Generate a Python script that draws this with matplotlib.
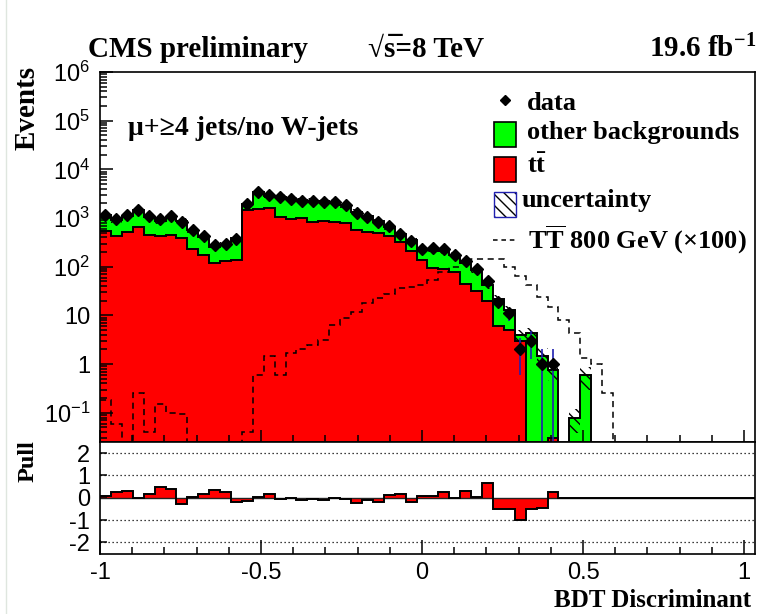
import numpy as np
import matplotlib
matplotlib.use("Agg")
import matplotlib.pyplot as plt
from matplotlib.lines import Line2D
from matplotlib.patches import Rectangle
from matplotlib.ticker import FixedLocator, FixedFormatter, MultipleLocator, NullFormatter

# --- binning of the BDT output (60 bins) ---
n_bins = 60
x_lo, x_hi = -1.0, 1.034

# per-bin contents (missing trailing bins are empty)
ttbar = [540, 430, 505, 645, 445, 425, 440, 390, 226, 173, 120, 132, 137, 1450, 1510,
         1580, 1050, 935, 980, 835, 865, 835, 775, 560, 520, 500, 425, 325, 210, 140,
         95, 89, 78, 45, 32, 20, 6.0, 5.0, 3.0, 0, 0, 0.03]
total_bkg = [1150, 900, 1090, 1450, 1070, 860, 1020, 880, 560, 405, 255, 282, 395, 1970,
             3400, 2900, 2760, 2410, 2300, 2280, 2200, 2150, 1860, 1340, 1080, 870, 660,
             460, 355, 226, 232, 212, 173, 122, 87, 42, 22, 13, 3.9, 4.3, 1.5, 0.75,
             0, 0.078, 0.59]
data = [1180, 950, 1180, 1450, 1110, 950, 1110, 835, 565, 425, 277, 300, 380, 1910, 3460,
        3030, 2720, 2410, 2250, 2250, 2150, 2150, 1830, 1280, 1050, 835, 680, 480, 340,
        230, 238, 226, 173, 132, 88, 50, 19, 11, 2, 3, 1, 1]
signal_x100 = [0.18, 0.059, 0, 0.26, 0.04, 0.15, 0.10, 0.093, 0, 0, 0, 0, 0, 0.04, 0.59,
               1.5, 0.59, 1.66, 2.03, 2.45, 3.1, 6.3, 8.9, 11.8, 17.7, 22.4, 28, 36, 37.5,
               42, 53, 79, 100, 117, 141, 145, 145, 100, 66, 42, 24, 15, 8, 4.3, 1.35,
               1.0, 0.25]
unc_rel = [0.12, 0.12, 0.12, 0.12, 0.12, 0.12, 0.12, 0.12, 0.12, 0.12, 0.12, 0.12, 0.12,
           0.12, 0.12, 0.12, 0.12, 0.12, 0.12, 0.12, 0.12, 0.12, 0.12, 0.12, 0.12, 0.12,
           0.12, 0.12, 0.12, 0.12, 0.12, 0.15, 0.15, 0.15, 0.15, 0.15, 0.2, 0.2, 0.3, 0.3,
           0.4, 0.4, 0, 0.5, 0.5]
pull = [0.07, 0.24, 0.30, 0.0, 0.16, 0.48, 0.37, -0.27, 0.04, 0.18, 0.36, 0.24, -0.19,
        -0.13, 0.04, 0.18, -0.06, 0.0, -0.12, -0.07, -0.12, 0.0, -0.06, -0.24, -0.12,
        -0.19, 0.12, 0.19, -0.19, 0.06, 0.10, 0.24, 0.0, 0.30, 0.04, 0.67, -0.52, -0.52,
        -1.01, -0.49, -0.46, 0.24]

x_ticks = [-1, -0.5, 0, 0.5, 1]
x_labels = ["-1", "-0.5", "0", "0.5", "1"]
y_ticks = [1e-1, 1, 10, 1e2, 1e3, 1e4, 1e5, 1e6]
y_labels = [r"$\mathsf{10^{-1}}$", "1", "10", r"$\mathsf{10^{2}}$", r"$\mathsf{10^{3}}$",
            r"$\mathsf{10^{4}}$", r"$\mathsf{10^{5}}$", r"$\mathsf{10^{6}}$"]
pull_ticks = [-2, -1, 0, 1, 2]
pull_labels = ["-2", "-1", "0", "1", "2"]

RED = "#ff0000"
GREEN = "#00ff00"
BLUE = "#2020b0"

plt.rcParams["font.family"] = "Liberation Serif"
plt.rcParams["font.weight"] = "normal"
plt.rcParams["mathtext.fontset"] = "custom"
plt.rcParams["mathtext.rm"] = "Liberation Serif:bold"
plt.rcParams["mathtext.bf"] = "Liberation Serif:bold"
plt.rcParams["mathtext.it"] = "Liberation Serif:italic:bold"
plt.rcParams["mathtext.sf"] = "Liberation Sans"
plt.rcParams["hatch.linewidth"] = 1.0

W, H = 757, 614


def fx(px):
    return px / W


def fy(py):
    return 1 - py / H


def pad(vals):
    out = np.zeros(n_bins)
    out[:len(vals)] = vals
    return out


edges = np.linspace(x_lo, x_hi, n_bins + 1)
centers = 0.5 * (edges[1:] + edges[:-1])
width = edges[1] - edges[0]
floor = 1e-4

tt = pad(ttbar)
tot = pad(total_bkg)
dat = pad(data)
sig = pad(signal_x100)
unc = pad(unc_rel)
pl = pad(pull)

fig = plt.figure(figsize=(W / 100, H / 100), dpi=100)
ax = fig.add_axes([fx(100), fy(442), (755 - 100) / W, (442 - 72) / H])
ax2 = fig.add_axes([fx(100), fy(553.5), (755 - 100) / W, (553.5 - 442) / H])

# --- main panel: stacked backgrounds ---
ax.stairs(np.maximum(tt, floor), edges, baseline=floor, fill=True,
          facecolor=RED, edgecolor="none", zorder=1)
ax.stairs(np.maximum(tot, floor), edges, baseline=np.maximum(tt, floor), fill=True,
          facecolor=GREEN, edgecolor="none", zorder=1)
ax.stairs(np.maximum(tt, floor), edges, baseline=None, color="black", lw=1.4, zorder=2)
ax.stairs(np.maximum(tot, floor), edges, baseline=None, color="black", lw=1.4, zorder=2)

# uncertainty band
has = tot > 0
err = tot * unc
ax.bar(centers[has], 2 * err[has], bottom=tot[has] - err[has], width=width,
       fill=False, hatch="\\\\\\", edgecolor="black", linewidth=0, zorder=3)

# signal x100
ax.stairs(np.maximum(sig, floor), edges, baseline=None, color="black", lw=1.1,
          linestyle=(0, (4, 3)), zorder=4)

# data
m = dat > 0
ax.errorbar(centers[m], dat[m], yerr=np.sqrt(dat[m]), fmt="D", color="black", ms=6.5,
            ecolor=BLUE, elinewidth=1.2, capsize=0, zorder=5)

ax.set_yscale("log")
ax.set_xlim(x_lo, x_hi)
ax.set_ylim(10 ** -1.6, 1e6)
ax.yaxis.set_major_locator(FixedLocator(y_ticks))
ax.yaxis.set_major_formatter(FixedFormatter(y_labels))
ax.yaxis.set_minor_locator(FixedLocator(
    [k * 10.0 ** e for e in range(-2, 6) for k in range(2, 10)]))
ax.yaxis.set_minor_formatter(NullFormatter())
ax.xaxis.set_major_locator(FixedLocator(x_ticks))
ax.xaxis.set_minor_locator(MultipleLocator(0.1))
ax.xaxis.set_major_formatter(NullFormatter())

ax.tick_params(which="both", direction="in", top=False, right=False, width=1.1,
               labelsize=17, labelfontfamily="Liberation Sans")
ax.tick_params(axis="y", which="major", length=9.4, pad=7)
ax.tick_params(axis="y", which="minor", length=5)
ax.tick_params(axis="x", which="major", length=8.6)
ax.tick_params(axis="x", which="minor", length=5)
for s in ax.spines.values():
    s.set_linewidth(1.2)

# --- pull panel ---
ax2.stairs(pl, edges, baseline=0, fill=True, facecolor=RED, edgecolor="none", zorder=1)
ax2.stairs(pl, edges, baseline=None, color="black", lw=1.4, zorder=3)
for v in [-2, -1, 1, 2]:
    ax2.axhline(v, color="black", lw=0.9, linestyle=(0, (1, 2.2)), zorder=0)
ax2.axhline(0, color="#222222", lw=1.0, zorder=2)
ax2.set_xlim(x_lo, x_hi)
ax2.set_ylim(-2.5, 2.5)
ax2.yaxis.set_major_locator(FixedLocator(pull_ticks))
ax2.yaxis.set_major_formatter(FixedFormatter(pull_labels))
ax2.xaxis.set_major_locator(FixedLocator(x_ticks))
ax2.xaxis.set_major_formatter(FixedFormatter(x_labels))
ax2.xaxis.set_minor_locator(MultipleLocator(0.1))
ax2.tick_params(which="both", direction="in", top=False, right=False, width=1.1,
                labelsize=17, labelfontfamily="Liberation Sans")
ax2.tick_params(axis="y", which="major", length=5, pad=7)
ax2.tick_params(axis="x", which="major", length=10, pad=6)
ax2.tick_params(axis="x", which="minor", length=5)
for s in ax2.spines.values():
    s.set_linewidth(1.2)

# --- titles and labels ---
fig.text(fx(88), fy(57), "CMS preliminary", fontsize=21, fontweight="bold", va="baseline")
fig.text(fx(368), fy(57), "\u221as\u0305=8 TeV", fontsize=21, fontweight="bold",
         va="baseline")
fig.text(fx(756), fy(57), r"19.6 fb$^{\mathbf{-1}}$", fontsize=21, fontweight="bold",
         va="baseline", ha="right")
fig.text(fx(128), fy(135), "\u03bc+\u22654 jets/no W-jets", fontsize=20, fontweight="bold",
         va="baseline")
fig.text(fx(27), fy(66), "Events", fontsize=21, fontweight="bold", rotation=90,
         ha="center", va="top")
fig.text(fx(28), fy(440), "Pull", fontsize=17.5, fontweight="bold", rotation=90,
         ha="center", va="top")
fig.text(fx(751), fy(607), "BDT Discriminant", fontsize=18, fontweight="bold",
         va="baseline", ha="right")

# --- legend ---
tf = fig.transFigure
fig.add_artist(Line2D([fx(505)], [fy(100)], marker="D", ms=5.5, color="black", transform=tf))
box_w, box_h = (515.7 - 494) / W, 25 / H
fig.add_artist(Rectangle((fx(494), fy(147)), box_w, box_h, facecolor=GREEN,
                         edgecolor="black", lw=1.2, transform=tf))
fig.add_artist(Rectangle((fx(494), fy(181.7)), box_w, box_h, facecolor=RED,
                         edgecolor="black", lw=1.2, transform=tf))
fig.add_artist(Rectangle((fx(494), fy(216.7)), box_w, box_h, facecolor="white",
                         edgecolor="black", lw=0, hatch="\\\\\\", transform=tf))
fig.add_artist(Rectangle((fx(494), fy(216.7)), box_w, box_h, fill=False,
                         edgecolor=BLUE, lw=1.0, transform=tf))
fig.add_artist(Line2D([fx(493), fx(515)], [fy(240), fy(240)], color="black", lw=1.1,
                      linestyle=(0, (3, 2.5)), transform=tf))
legend_rows = [("data", 527, 110), ("other backgrounds", 527, 139.3),
               (r"$\mathbf{t\bar{t}}$", 527, 173.3), ("uncertainty", 522, 206.7),
               (r"$\mathbf{T\overline{T}}$ 800 GeV (" + "\u00d7" + "100)", 528, 248.3)]
for label, lx, ly in legend_rows:
    fig.text(fx(lx), fy(ly), label, fontsize=19, fontweight="bold", va="baseline")

# faint page border on the left
fig.add_artist(Line2D([fx(6), fx(6)], [0, 1], color="#dfe6df", lw=1, transform=tf))

fig.savefig("out.png", dpi=100)
